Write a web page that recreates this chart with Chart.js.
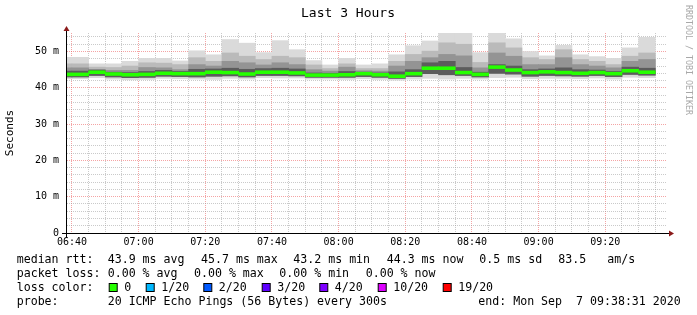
<!DOCTYPE html>
<html>
<head>
<meta charset="utf-8">
<script src="https://cdn.jsdelivr.net/npm/chart.js@4/dist/chart.umd.min.js"></script>
<style>
  html, body { margin: 0; padding: 0; background: #fff; }
  canvas { display: block; }
</style>
</head>
<body>
<canvas id="smoke" width="697" height="315"></canvas>
<script>
// 5 minute steps, each value is the end of the step
var times = ["06:40","06:45","06:50","06:55","07:00","07:05","07:10","07:15","07:20","07:25","07:30","07:35",
             "07:40","07:45","07:50","07:55","08:00","08:05","08:10","08:15","08:20","08:25","08:30","08:35",
             "08:40","08:45","08:50","08:55","09:00","09:05","09:10","09:15","09:20","09:25","09:30","09:35"];

// smoke (ms): outer max, medium band top, dark band top, core top, lower band, min
var pingMax  = [48.4,48.4,46.6,46.6,47.3,48.1,48.1,47.4,50.2,49.1,53.3,52.3,49.7,53.0,50.5,47.5,46.3,48.1,
                46.3,46.6,49.1,51.6,52.9,55.1,55.1,49.7,55.1,53.5,50.0,48.8,51.7,49.1,48.6,48.1,51.0,53.9];
var pingMid  = [46.6,46.6,45.7,45.6,46.0,46.9,46.8,46.4,48.3,47.3,49.6,48.7,47.8,48.7,48.3,46.3,45.3,46.6,
                45.3,45.3,47.3,49.2,50.1,52.4,52.0,47.0,52.4,51.0,48.3,47.8,50.5,47.8,47.3,46.4,48.7,49.6];
var pingInner= [45.5,45.5,45.0,44.8,44.8,45.6,45.5,45.0,46.4,46.0,47.3,46.9,46.3,46.9,46.4,45.0,44.6,45.7,
                44.7,44.6,46.0,47.3,48.3,49.2,48.8,45.5,49.6,48.7,46.4,46.4,48.3,46.4,46.0,45.5,47.3,47.8];
var pingCore = [44.6,44.6,44.9,44.3,44.2,44.5,44.8,44.5,45.1,45.2,45.4,45.1,45.3,45.4,45.2,44.1,44.0,44.5,
                44.3,44.1,44.4,45.0,46.9,47.3,45.6,44.3,46.4,46.0,45.0,45.2,45.5,45.0,44.9,44.5,45.7,45.4];
var pingLow  = [43.0,43.0,43.4,43.0,42.8,42.9,43.2,43.1,43.0,43.2,43.3,43.0,43.4,43.4,43.3,42.9,42.9,42.9,
                43.1,42.9,42.6,43.1,43.9,43.6,43.4,43.0,44.0,43.8,43.2,43.4,43.3,43.2,43.4,43.1,43.7,43.5];
var pingMin  = [42.5,42.5,42.8,42.4,42.2,42.3,42.6,42.5,42.4,42.3,42.6,42.4,42.8,42.7,42.7,42.4,42.4,42.3,
                42.5,42.3,42.1,42.4,42.6,42.4,42.6,42.4,42.8,42.9,42.5,42.6,42.6,42.5,42.7,42.4,42.9,42.8];
var median   = [43.7,43.7,44.3,43.8,43.6,43.7,44.0,43.9,43.9,44.3,44.2,43.8,44.3,44.3,44.1,43.5,43.5,43.6,
                43.9,43.6,43.2,43.9,45.4,45.4,44.2,43.7,45.7,44.9,44.2,44.4,44.2,44.0,44.2,43.9,44.7,44.3];

var yTicks = [0, 10, 20, 30, 40, 50];
var xTicks = ["06:40", "07:00", "07:20", "07:40", "08:00", "08:20", "08:40", "09:00", "09:20"];

var lossNames  = ["0", "1/20", "2/20", "3/20", "4/20", "10/20", "19/20"];
var lossColors = ["#26ff00", "#00b8ff", "#0059ff", "#5e00ff", "#7e00ff", "#dd00ff", "#ff0000"];

function toMin(s) {
    var p = s.split(":");
    return parseInt(p[0], 10) * 60 + parseInt(p[1], 10);
}
function fmtMin(v) {
    var h = Math.floor(v / 60), m = v % 60;
    return (h < 10 ? "0" : "") + h + ":" + (m < 10 ? "0" : "") + m;
}

var startMin = toMin("06:38") + 31 / 60;   // end 09:38:31 minus 3 hours
var endMin = startMin + 180;
var medianBand = 0.8;                      // thickness of the median line in ms

function band(lo, hi) {
    var out = [];
    for (var i = 0; i < times.length; i++) {
        out.push({ x: toMin(times[i]) - 2.5, y: [lo[i], hi[i]] });
    }
    return out;
}
var medianData = [];
for (var i = 0; i < times.length; i++) {
    medianData.push({ x: toMin(times[i]) - 2.5, y: [median[i] - medianBand / 2, median[i] + medianBand / 2] });
}

function barSet(label, data, color, order) {
    return {
        label: label,
        data: data,
        backgroundColor: color,
        borderWidth: 0,
        grouped: false,
        barPercentage: 1,
        categoryPercentage: 1,
        order: order
    };
}

var mono = "'DejaVu Sans Mono', 'Liberation Mono', monospace";

var rrdText = {
    id: 'rrdText',
    beforeDraw: function (chart) {
        var c = chart.ctx;
        c.save();
        c.fillStyle = '#fff';
        c.fillRect(0, 0, chart.width, chart.height);
        c.restore();
    },
    afterDraw: function (chart) {
        var c = chart.ctx;
        var a = chart.chartArea;
        c.save();

        // axes
        c.strokeStyle = '#000';
        c.lineWidth = 1;
        c.beginPath();
        c.moveTo(a.left - 0.5, a.bottom + 4);
        c.lineTo(a.left - 0.5, a.top - 4);
        c.moveTo(a.left - 5, a.bottom + 0.5);
        c.lineTo(a.right + 3, a.bottom + 0.5);
        c.stroke();
        c.fillStyle = '#8b1a1a';
        c.beginPath();
        c.moveTo(a.left - 0.5, a.top - 7);
        c.lineTo(a.left - 3.5, a.top - 2);
        c.lineTo(a.left + 2.5, a.top - 2);
        c.closePath();
        c.fill();
        c.beginPath();
        c.moveTo(a.right + 7, a.bottom + 0.5);
        c.lineTo(a.right + 2, a.bottom - 2.5);
        c.lineTo(a.right + 2, a.bottom + 3.5);
        c.closePath();
        c.fill();

        // title
        c.fillStyle = '#000';
        c.textBaseline = 'middle';
        c.textAlign = 'center';
        c.font = '13px ' + mono;
        c.fillText('Last 3 Hours', 348, 14);

        // y title
        c.save();
        c.translate(10, 133);
        c.rotate(-Math.PI / 2);
        c.font = '11px ' + mono;
        c.fillText('Seconds', 0, 0);
        c.restore();

        // watermark
        c.save();
        c.translate(688, 60);
        c.rotate(Math.PI / 2);
        c.fillStyle = '#a8a8a8';
        c.font = '8.3px ' + mono;
        c.fillText('RRDTOOL / TOBI OETIKER', 0, 0);
        c.restore();

        // legend
        c.textAlign = 'left';
        c.font = '11.6px ' + mono;
        var rows = [
            [259.5, [['median rtt:', 16.7], ['43.9 ms avg', 107.7], ['45.7 ms max', 201], ['43.2 ms min', 293.3],
                     ['44.3 ms now', 386.7], ['0.5 ms sd', 479.3], ['83.5', 558.3], ['am/s', 607.3]]],
            [273.5, [['packet loss:', 16.7], ['0.00 % avg', 107.7], ['0.00 % max', 194], ['0.00 % min', 279.3],
                     ['0.00 % now', 365.7]]],
            [287.5, [['loss color:', 16.7]]],
            [301.5, [['probe:', 16.7], ['20 ICMP Echo Pings (56 Bytes) every 300s', 107.7],
                     ['end: Mon Sep  7 09:38:31 2020', 478.3]]]
        ];
        rows.forEach(function (r) {
            r[1].forEach(function (t) { c.fillText(t[0], t[1], r[0]); });
        });

        var boxX = [108.7, 145.7, 203.3, 261.7, 319.3, 377.7, 442.7];
        c.strokeStyle = '#000';
        for (var k = 0; k < lossNames.length; k++) {
            c.fillStyle = lossColors[k];
            c.fillRect(boxX[k] + 0.5, 283.5, 8, 8);
            c.strokeRect(boxX[k] + 0.5, 283.5, 8, 8);
            c.fillStyle = '#000';
            c.fillText(lossNames[k], boxX[k] + 15.5, 287.5);
        }
        c.restore();
    }
};

var ctx = document.getElementById('smoke');

var smokeChart = new Chart(ctx, {
    type: 'bar',
    data: {
        datasets: [
            barSet('median', medianData, '#26ff00', 0),
            barSet('core', band(pingLow, pingCore), '#5c5c5c', 1),
            barSet('inner', band(pingLow, pingInner), '#949494', 2),
            barSet('mid', band(pingLow, pingMid), '#bababa', 3),
            barSet('outer', band(pingMin, pingMax), '#dadada', 4)
        ]
    },
    options: {
        responsive: false,
        animation: false,
        devicePixelRatio: 1,
        layout: { padding: { left: 0, right: 30, top: 33, bottom: 62 } },
        plugins: {
            legend: { display: false },
            tooltip: { enabled: false }
        },
        scales: {
            x: {
                type: 'linear',
                offset: false,
                min: startMin,
                max: endMin,
                z: 1,
                afterBuildTicks: function (scale) {
                    var t = [];
                    for (var v = 400; v <= endMin; v += 5) t.push({ value: v });
                    scale.ticks = t;
                },
                afterFit: function (scale) { scale.height = 20; },
                border: { display: false, dash: [1, 1] },
                grid: {
                    offset: false,
                    drawTicks: false,
                    color: function (c) {
                        if (!c.tick) return 'transparent';
                        return xTicks.indexOf(fmtMin(c.tick.value)) >= 0 ? 'rgba(235,90,90,0.55)' : 'rgba(150,150,150,0.5)';
                    }
                },
                ticks: {
                    autoSkip: false,
                    maxRotation: 0,
                    padding: 3,
                    color: '#000',
                    font: { family: mono, size: 10 },
                    callback: function (v) {
                        var s = fmtMin(v);
                        return xTicks.indexOf(s) >= 0 ? s : '';
                    }
                }
            },
            y: {
                min: 0,
                max: 55.1,
                z: 1,
                afterBuildTicks: function (scale) {
                    var t = [];
                    for (var v = 0; v <= 54; v += 2) t.push({ value: v });
                    scale.ticks = t;
                },
                afterFit: function (scale) { scale.width = 67; },
                border: { display: false, dash: [1, 1] },
                grid: {
                    drawTicks: false,
                    color: function (c) {
                        if (!c.tick) return 'transparent';
                        return yTicks.indexOf(c.tick.value) >= 0 ? 'rgba(235,90,90,0.55)' : 'rgba(150,150,150,0.5)';
                    }
                },
                ticks: {
                    autoSkip: false,
                    padding: 8,
                    color: '#000',
                    font: { family: mono, size: 10 },
                    callback: function (v) {
                        if (yTicks.indexOf(v) < 0) return '';
                        return v === 0 ? '0' : v + ' m';
                    }
                }
            }
        }
    },
    plugins: [rrdText]
});
</script>
</body>
</html>
